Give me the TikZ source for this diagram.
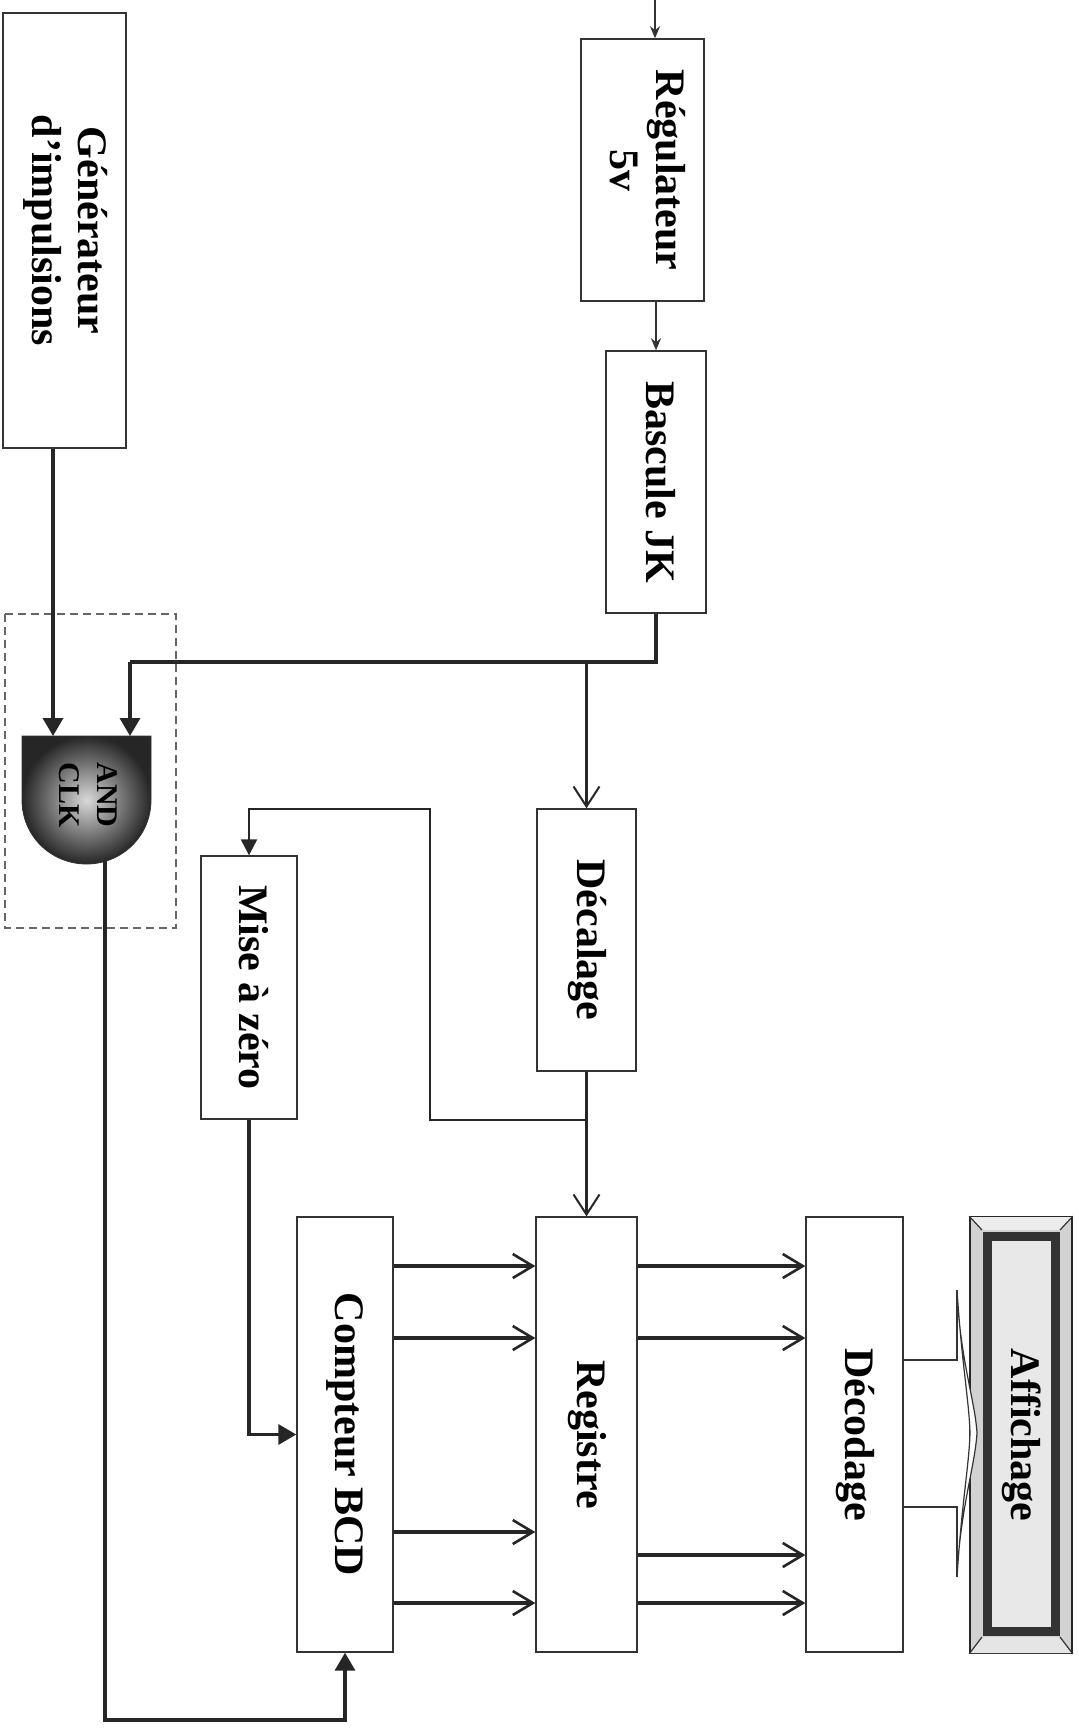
\documentclass[tikz,border=0pt]{standalone}
\usepackage{fontspec}
\setmainfont{Liberation Serif}
\usetikzlibrary{arrows.meta}

\newcommand{\vlab}[1]{\rotatebox{-90}{\begin{tabular}{@{}c@{}}#1\end{tabular}}}

\tikzset{
  blok/.style={draw=black!80, line width=0.7pt, fill=white, inner sep=0pt,
    font=\fontsize{21}{23}\selectfont\bfseries},
  lien/.style={draw=black!85, line width=1.7pt},
  fin/.style={draw=black!80, line width=0.6pt},
  mince/.style={draw=black!80, line width=0.9pt, -{Stealth[length=6pt, width=5pt]}},
  fleche/.style={lien, -{Straight Barb[length=10pt, width=13pt, line width=1pt]}},
  pleine/.style={lien, -{Triangle[length=9pt, width=10pt]}},
  bus/.style={draw=black!85, line width=2.4pt, -{Straight Barb[length=10pt, width=12pt, line width=1.3pt]}},
  porte/.style={font=\fontsize{15}{19}\selectfont\bfseries, inner sep=0pt},
}

\begin{document}
\begin{tikzpicture}[x=0.5pt, y=-0.5pt]
  \useasboundingbox (0,0) rectangle (1078,1730);

  \node[blok, minimum width=61.5pt, minimum height=217.5pt] (gen) at (64.5,230.5) {\vlab{Générateur\\d'impulsions}};
  \node[blok, minimum width=61.5pt, minimum height=131pt] (reg) at (642.5,170) {\vlab{Régulateur\\5v}};
  \node[blok, minimum width=50pt, minimum height=131pt] (bas) at (656,482) {\vlab{Bascule JK}};
  \node[blok, minimum width=49.5pt, minimum height=131pt] (dec) at (586.5,940) {\vlab{Décalage}};
  \node[blok, minimum width=48pt, minimum height=131.5pt] (raz) at (249,987.5) {\vlab{Mise à zéro}};
  \node[blok, minimum width=48pt, minimum height=217.5pt] (cpt) at (345,1434.5) {\vlab{Compteur BCD}};
  \node[blok, minimum width=50.5pt, minimum height=217.5pt] (regi) at (586.5,1434.5) {\vlab{Registre}};
  \node[blok, minimum width=48.5pt, minimum height=217.5pt] (deco) at (854.5,1434.5) {\vlab{Décodage}};

  % afficheur
  \node[draw=black!85, line width=0.8pt, fill=gray!35, minimum width=51pt, minimum height=218pt, inner sep=0pt] (aff) at (1021,1435) {};
  \fill[gray!15] (970,1217) -- (1072,1217) -- (1060,1230) -- (982,1230) -- cycle;
  \fill[gray!20] (970,1653) -- (1072,1653) -- (1060,1637) -- (982,1637) -- cycle;
  \draw[fin] (aff.north west) -- (982,1230) (aff.north east) -- (1060,1230)
             (aff.south west) -- (982,1637) (aff.south east) -- (1060,1637);
  \draw[black!80, line width=4.5pt, fill=gray!18] (987,1236) rectangle (1055,1631);
  \node[font=\fontsize{21}{23}\selectfont\bfseries] (afft) at (aff) {\vlab{Affichage}};

  % porte ET
  \draw[dashed, black!60, line width=0.6pt, dash pattern=on 4pt off 2.5pt] (5,614) rectangle (176,928);
  \shadedraw[draw=black!80, inner color=gray!30, outer color=black!85]
    (22,736) -- (151,736) -- (151,800) .. controls (151,836) and (122,864) .. (86.5,864)
    .. controls (51,864) and (22,836) .. (22,800) -- cycle;
  \node[porte] (et) at (86.5,795) {\vlab{AND\\CLK}};
  \coordinate (e1) at (53,736);
  \coordinate (e2) at (130,736);
  \coordinate (s) at (105,861);

  \coordinate (in) at (655,0);
  \coordinate (j1) at (656,662);
  \coordinate (j2) at (586.5,662);
  \coordinate (j3) at (130,662);
  \coordinate (b1) at (586.5,1120);
  \coordinate (b2) at (430,1120);
  \coordinate (b3) at (430,809);
  \coordinate (b4) at (249,809);
  \coordinate (c1) at (105,1720);

  \draw[mince] (in) -- (in |- reg.north);
  \draw[mince] (reg.south -| bas) -- (bas.north);
  \draw[lien] (bas.south) -- (j1) -- (j3);
  \draw[pleine] (j3) -- (e2);
  \draw[pleine] (gen.south -| e1) -- (e1);
  \draw[fleche] (j2) -- (dec.north);
  \draw[fleche] (dec.south) -- (regi.north);
  \draw[lien, line width=1.1pt, -{Triangle[length=8pt, width=8pt]}] (b1) -- (b2) -- (b3) -- (b4) -- (raz.north);
  \draw[pleine] (raz.south) -- (raz.south |- cpt.west) -- (cpt.west);
  \draw[pleine] (s) -- (c1) -- (c1 -| cpt.south) -- (cpt.south);

  \foreach \y in {1266,1338,1532,1603}
    \draw[bus] (cpt.east |- 0,\y) -- (regi.west |- 0,\y);
  \foreach \y in {1266,1338,1555,1603}
    \draw[bus] (regi.east |- 0,\y) -- (deco.west |- 0,\y);

  % liaison decodage - affichage
  \coordinate (d1) at (957,1290);
  \coordinate (d2) at (957,1360);
  \coordinate (d3) at (957,1507);
  \coordinate (d4) at (957,1577);
  \draw[fin] (deco.east |- d2) -- (d2) -- (d1);
  \draw[fin] (deco.east |- d3) -- (d3) -- (d4);
  \draw[fin, fill=white] (d1) .. controls (960,1360) and (975,1400) .. (977,1433)
    .. controls (975,1466) and (960,1510) .. (d4)
    .. controls (962,1500) and (969,1466) .. (970,1433)
    .. controls (969,1400) and (962,1366) .. (d1);
\end{tikzpicture}
\end{document}
